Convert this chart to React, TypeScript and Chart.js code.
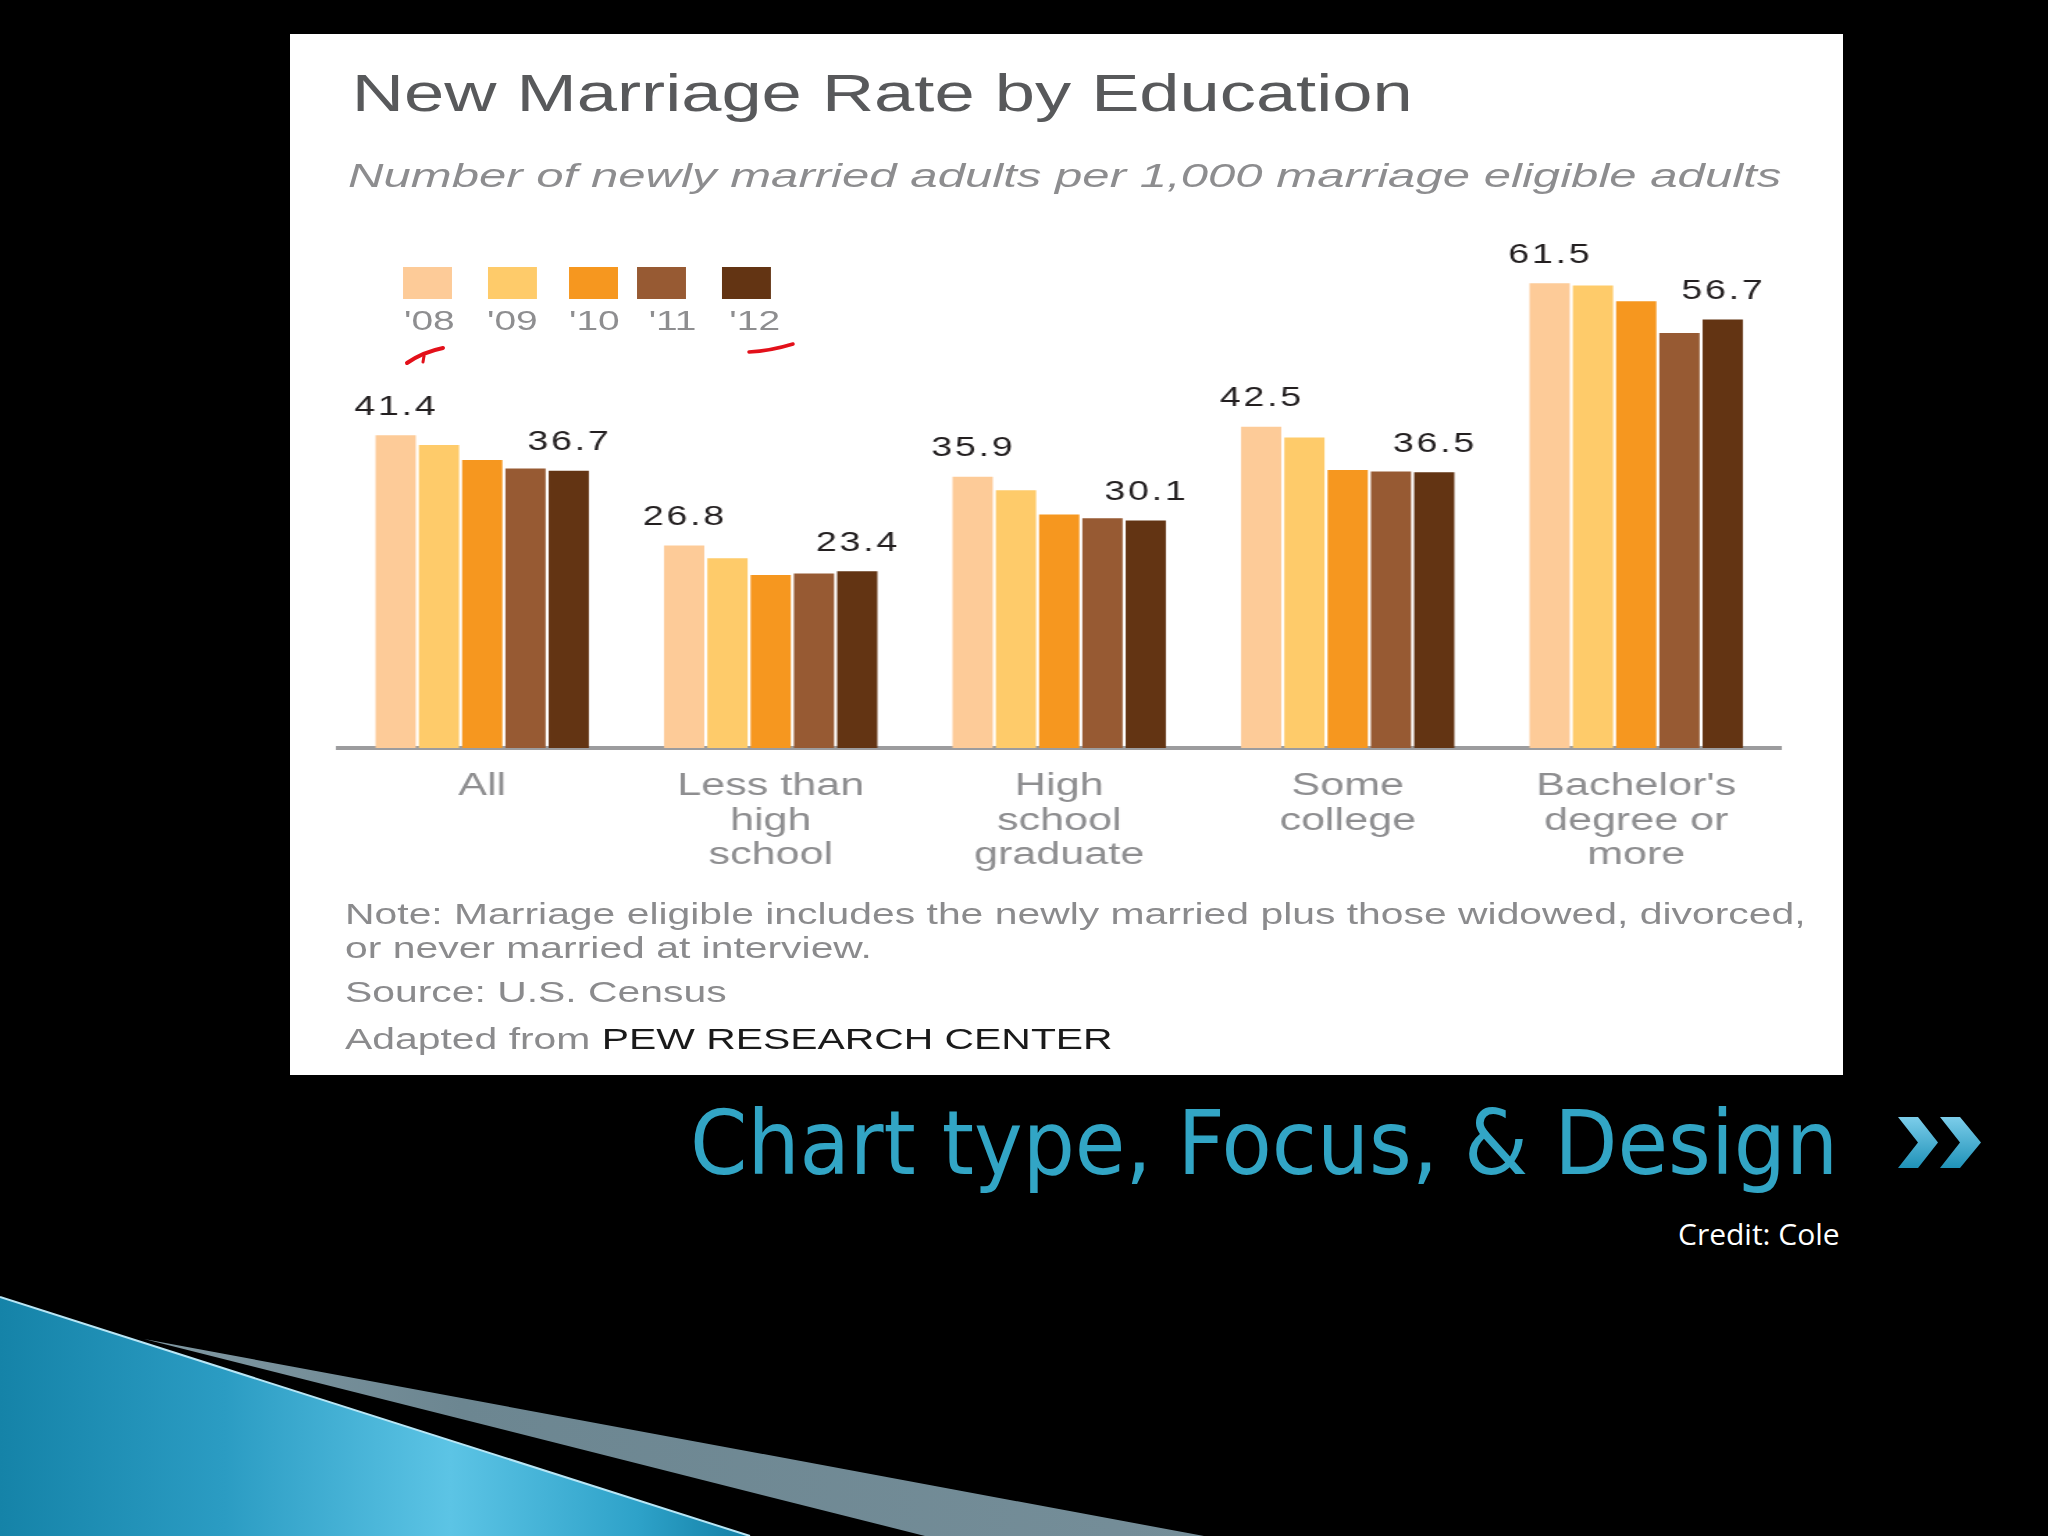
import React, { useEffect, useRef } from "react";
import { Chart, registerables } from "chart.js";

Chart.register(...registerables);

// ---- data ----
const categories: string[][] = [
  ["All"],
  ["Less than", "high", "school"],
  ["High", "school", "graduate"],
  ["Some", "college"],
  ["Bachelor's", "degree or", "more"],
];
const years = ["'08", "'09", "'10", "'11", "'12"];
const y08 = [41.4, 26.8, 35.9, 42.5, 61.5];
const y09 = [40.1, 25.1, 34.1, 41.1, 61.2];
const y10 = [38.1, 22.9, 30.9, 36.8, 59.1];
const y11 = [37.0, 23.1, 30.4, 36.6, 54.9];
const y12 = [36.7, 23.4, 30.1, 36.5, 56.7];
const series = [y08, y09, y10, y11, y12];
const seriesColors = ["#FDCB98", "#FECB6A", "#F6971F", "#975A33", "#633413"];
const labeledSeries = [0, 4];

const titleText = "New Marriage Rate by Education";
const subtitleText = "Number of newly married adults per 1,000 marriage eligible adults";
const noteLines = [
  "Note: Marriage eligible includes the newly married plus those widowed, divorced,",
  "or never married at interview.",
  "Source: U.S. Census",
];
const adaptedPrefix = "Adapted from ";
const adaptedSource = "PEW RESEARCH CENTER";
const slideTitle = "Chart type, Focus, & Design";
const creditText = "Credit: Cole";

// ---- layout ----
const PANEL_X = 290;
const PANEL_Y = 34;
const PANEL_W = 1553;
const PANEL_H = 1041;
const CANVAS_W = 1117;
const STRETCH = PANEL_W / CANVAS_W;
const FONT = '"Liberation Sans", Arial, Helvetica, sans-serif';

const legendX = [81.3, 142.4, 200.7, 249.6, 310.7];
const legendLabelX = [82, 141.7, 200.7, 258, 316];

export default function App() {
  const canvasRef = useRef<HTMLCanvasElement>(null);

  useEffect(() => {
    document.body.style.margin = "0";
    document.body.style.background = "#000";
    const valueLabels = {
      id: "valueLabels",
      afterDatasetsDraw(chart: any) {
        const ctx = chart.ctx as CanvasRenderingContext2D;
        ctx.save();
        ctx.font = `27px ${FONT}`;
        ctx.fillStyle = "#231f20";
        ctx.textAlign = "center";
        ctx.textBaseline = "alphabetic";
        (ctx as any).letterSpacing = "2px";
        labeledSeries.forEach((di) => {
          const meta = chart.getDatasetMeta(di);
          meta.data.forEach((bar: any, i: number) => {
            const v = chart.data.datasets[di].data[i] as number;
            ctx.fillText(v.toFixed(1), bar.x + 0.5, bar.y - 20.5);
          });
        });
        ctx.restore();
      },
    };
    const chart = new Chart(canvasRef.current!, {
      type: "bar",
      data: {
        labels: categories,
        datasets: series.map((d, i) => ({
          label: years[i],
          data: d,
          backgroundColor: seriesColors[i],
          borderWidth: 0,
          categoryPercentage: 0.75,
          barPercentage: 0.93,
        })),
      },
      options: {
        responsive: false,
        animation: false,
        devicePixelRatio: 1,
        layout: { padding: { left: 34.5, right: 45, top: 185, bottom: 177 } },
        plugins: {
          legend: { display: false },
          tooltip: { enabled: false },
        },
        scales: {
          x: {
            grid: { display: false, drawTicks: false },
            border: { display: true, color: "#9c9c9e", width: 4 },
            ticks: {
              color: "#8e8e90",
              font: { family: FONT, size: 31, lineHeight: 1.12 },
              padding: 21,
              maxRotation: 0,
              autoSkip: false,
            },
            afterFit: (s: any) => {
              s.height = 150;
            },
          },
          y: { display: false, min: 0, max: 70 },
        },
      },
      plugins: [valueLabels],
    } as any);
    return () => chart.destroy();
  }, []);

  return (
    <div
      style={{
        position: "absolute",
        left: 0,
        top: 0,
        width: 2048,
        height: 1536,
        background: "#000",
        overflow: "hidden",
      }}
    >
      {/* slide decoration */}
      <svg width={2048} height={1536} style={{ position: "absolute", left: 0, top: 0 }}>
        <defs>
          <linearGradient id="blueWedge" x1="0" y1="0" x2="1" y2="0">
            <stop offset="0" stopColor="#1583a8" />
            <stop offset="0.3" stopColor="#2b9cc3" />
            <stop offset="0.6" stopColor="#5cc4e5" />
            <stop offset="0.85" stopColor="#2ea2c9" />
            <stop offset="1" stopColor="#127fa5" />
          </linearGradient>
          <linearGradient id="grayWedge" x1="0" y1="0" x2="1" y2="0">
            <stop offset="0" stopColor="#8199a3" />
            <stop offset="0.3" stopColor="#6c8691" />
            <stop offset="1" stopColor="#758e99" />
          </linearGradient>
          <linearGradient id="chev" x1="0" y1="0" x2="0" y2="1">
            <stop offset="0" stopColor="#7ccdea" />
            <stop offset="1" stopColor="#1f92b8" />
          </linearGradient>
        </defs>
        <polygon points="144,1339 1204,1536 925,1536" fill="url(#grayWedge)" />
        <polygon points="0,1297 750,1536 0,1536" fill="url(#blueWedge)" />
        <line x1="0" y1="1297" x2="750" y2="1536" stroke="#b9e6f5" strokeWidth="2" />
        <polygon points="1898,1117 1918,1117 1938,1142.5 1918,1168 1898,1168 1918,1142.5" fill="url(#chev)" />
        <polygon points="1940,1117 1960,1117 1981,1142.5 1960,1168 1940,1168 1960,1142.5" fill="url(#chev)" />
        <text
          x={690}
          y={1174}
          fill="#32a5c5"
          fontSize={89}
          fontFamily='"DejaVu Sans Condensed", "DejaVu Sans", sans-serif'
          style={{ fontStretch: "condensed" }}
          textLength={1148}
          lengthAdjust="spacingAndGlyphs"
        >
          {slideTitle}
        </text>
        <text x={1678} y={1245} fill="#ffffff" fontSize={30} fontFamily='"Open Sans", sans-serif'>
          {creditText}
        </text>
      </svg>

      {/* chart panel */}
      <div
        style={{
          position: "absolute",
          left: PANEL_X,
          top: PANEL_Y,
          width: PANEL_W,
          height: PANEL_H,
          background: "#ffffff",
          overflow: "hidden",
        }}
      >
        <canvas
          ref={canvasRef}
          width={CANVAS_W}
          height={PANEL_H}
          style={{
            position: "absolute",
            left: 0,
            top: 0,
            width: CANVAS_W,
            height: PANEL_H,
            transform: `scaleX(${STRETCH})`,
            transformOrigin: "0 0",
          }}
        />
        <svg width={PANEL_W} height={PANEL_H} style={{ position: "absolute", left: 0, top: 0 }}>
          <g transform={`scale(${STRETCH},1)`} fontFamily={FONT}>
            <text x={44.5} y={77} fontSize={52} fill="#58595b">
              {titleText}
            </text>
            <text
              x={41.7}
              y={153}
              fontSize={33}
              fontStyle="italic"
              fill="#8d8d8f"
              textLength={1031}
              lengthAdjust="spacingAndGlyphs"
            >
              {subtitleText}
            </text>
            {years.map((y, i) => (
              <g key={y}>
                <rect x={legendX[i]} y={233} width={35.2} height={32} fill={seriesColors[i]} />
                <text x={legendLabelX[i]} y={296} fontSize={28} fill="#8e8e90">
                  {y}
                </text>
              </g>
            ))}
            {noteLines.map((t, i) => (
              <text key={i} x={39.6} y={[890, 924, 968][i]} fontSize={29.4} fill="#8b8b8d">
                {t}
              </text>
            ))}
            <text x={39.6} y={1015} fontSize={29.4} fill="#8b8b8d">
              {adaptedPrefix}
              <tspan fill="#1a1a1a">{adaptedSource}</tspan>
            </text>
          </g>
          {/* hand-drawn red marks */}
          <path d="M117,329 Q133,318 153,314" stroke="#e3101a" strokeWidth={4} fill="none" strokeLinecap="round" />
          <path d="M134,322 L133,328" stroke="#e3101a" strokeWidth={3} fill="none" strokeLinecap="round" />
          <path d="M459,318 Q480,317 503,310" stroke="#e3101a" strokeWidth={3.5} fill="none" strokeLinecap="round" />
        </svg>
      </div>
    </div>
  );
}
